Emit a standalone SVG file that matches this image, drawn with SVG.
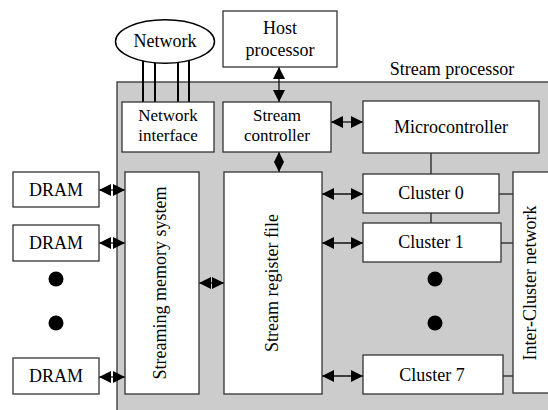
<svg xmlns="http://www.w3.org/2000/svg" width="548" height="410" viewBox="0 0 548 410">
<defs>
<style>
.box{fill:#fff;stroke:#333;stroke-width:1.3}
.t{font-family:"Liberation Serif",serif;font-size:18px;fill:#000;text-anchor:middle}
.t2{font-family:"Liberation Serif",serif;font-size:17px;fill:#000;text-anchor:middle}
.ln{stroke:#222;stroke-width:1.3;fill:none}
.nl{stroke:#000;stroke-width:2;fill:none}
.ar{stroke:#111;stroke-width:1.3;fill:none;marker-start:url(#h);marker-end:url(#h)}
.ars{stroke:#111;stroke-width:1.3;fill:none;marker-start:url(#hs);marker-end:url(#hs)}
.dot{fill:#000}
</style>
<marker id="h" viewBox="0 0 12 12" refX="12" refY="6" markerWidth="12" markerHeight="12" markerUnits="userSpaceOnUse" orient="auto-start-reverse">
<path d="M0,0 L12,6 L0,12 Z" fill="#000"/>
</marker>
<marker id="hs" viewBox="0 0 10 10" refX="10" refY="5" markerWidth="10" markerHeight="10" markerUnits="userSpaceOnUse" orient="auto-start-reverse">
<path d="M0,0 L10,5 L0,10 Z" fill="#000"/>
</marker>
</defs>
<rect x="0" y="0" width="548" height="410" fill="#fff"/>
<g id="stream-processor">
<rect x="117" y="82" width="440" height="340" fill="#cccccc" stroke="#333" stroke-width="1.3"/>
<text class="t" x="452" y="75">Stream processor</text>
</g>
<g id="connectors">
<line class="nl" x1="143" y1="55" x2="143" y2="102"/>
<line class="nl" x1="155" y1="55" x2="155" y2="102"/>
<line class="nl" x1="178" y1="55" x2="178" y2="102"/>
<line class="nl" x1="189" y1="55" x2="189" y2="102"/>
<line class="ar" x1="279" y1="67" x2="279" y2="102"/>
<line class="ars" x1="279" y1="152" x2="279" y2="172"/>
<line class="ar" x1="331" y1="122" x2="363" y2="122"/>
<line class="ln" x1="431" y1="153" x2="431" y2="174"/>
<line class="ln" x1="431" y1="213" x2="431" y2="223"/>
<line class="ar" x1="322" y1="194" x2="363" y2="194"/>
<line class="ar" x1="322" y1="243" x2="363" y2="243"/>
<line class="ar" x1="322" y1="376" x2="363" y2="376"/>
<line class="ln" x1="499" y1="194" x2="513" y2="194"/>
<line class="ln" x1="501" y1="243" x2="513" y2="243"/>
<line class="ln" x1="503" y1="376" x2="513" y2="376"/>
<line class="ar" x1="99" y1="190" x2="125" y2="190"/>
<line class="ar" x1="99" y1="243" x2="125" y2="243"/>
<line class="ar" x1="99" y1="377" x2="125" y2="377"/>
<line class="ar" x1="199" y1="283" x2="224" y2="283" stroke-width="4"/>
</g>
<g id="network">
<ellipse cx="165" cy="41.5" rx="49.5" ry="21.7" fill="#fff" stroke="#000" stroke-width="1.5"/>
<text class="t" x="165" y="47">Network</text>
</g>
<g id="host-processor">
<rect class="box" x="223" y="11" width="114" height="56"/>
<text class="t" x="280" y="34">Host</text>
<text class="t" x="280" y="56">processor</text>
</g>
<g id="network-interface">
<rect class="box" x="122" y="102" width="92" height="50"/>
<text class="t2" x="168" y="121">Network</text>
<text class="t2" x="168" y="141">interface</text>
</g>
<g id="stream-controller">
<rect class="box" x="223" y="102" width="108" height="50"/>
<text class="t2" x="277" y="121">Stream</text>
<text class="t2" x="277" y="141">controller</text>
</g>
<g id="microcontroller">
<rect class="box" x="363" y="101" width="176" height="52"/>
<text class="t" x="451" y="133">Microcontroller</text>
</g>
<g id="cluster0">
<rect class="box" x="363" y="174" width="136" height="39"/>
<text class="t" x="431" y="199">Cluster 0</text>
</g>
<g id="cluster1">
<rect class="box" x="363" y="223" width="138" height="39"/>
<text class="t" x="431" y="248">Cluster 1</text>
</g>
<g id="cluster7">
<rect class="box" x="363" y="355" width="140" height="39"/>
<text class="t" x="432" y="381">Cluster 7</text>
</g>
<g id="cluster-dots">
<circle class="dot" cx="435" cy="279" r="7.5"/>
<circle class="dot" cx="435" cy="323" r="7.5"/>
</g>
<g id="inter-cluster-network">
<rect class="box" x="513" y="172" width="45" height="221"/>
<text class="t" transform="translate(536,283) rotate(-90)">Inter-Cluster network</text>
</g>
<g id="stream-register-file">
<rect class="box" x="224" y="172" width="98" height="222"/>
<text class="t" transform="translate(278,283) rotate(-90)">Stream register file</text>
</g>
<g id="streaming-memory-system">
<rect class="box" x="125" y="172" width="74" height="222"/>
<text class="t" transform="translate(166,283) rotate(-90)">Streaming memory system</text>
</g>
<g id="dram0">
<rect class="box" x="13" y="172" width="86" height="35"/>
<text class="t" x="56" y="196">DRAM</text>
</g>
<g id="dram1">
<rect class="box" x="13" y="225" width="86" height="36"/>
<text class="t" x="56" y="249">DRAM</text>
</g>
<g id="dram-dots">
<circle class="dot" cx="56" cy="279" r="7.5"/>
<circle class="dot" cx="56" cy="323" r="7.5"/>
</g>
<g id="dram7">
<rect class="box" x="13" y="358" width="86" height="36"/>
<text class="t" x="56" y="382">DRAM</text>
</g>
</svg>
